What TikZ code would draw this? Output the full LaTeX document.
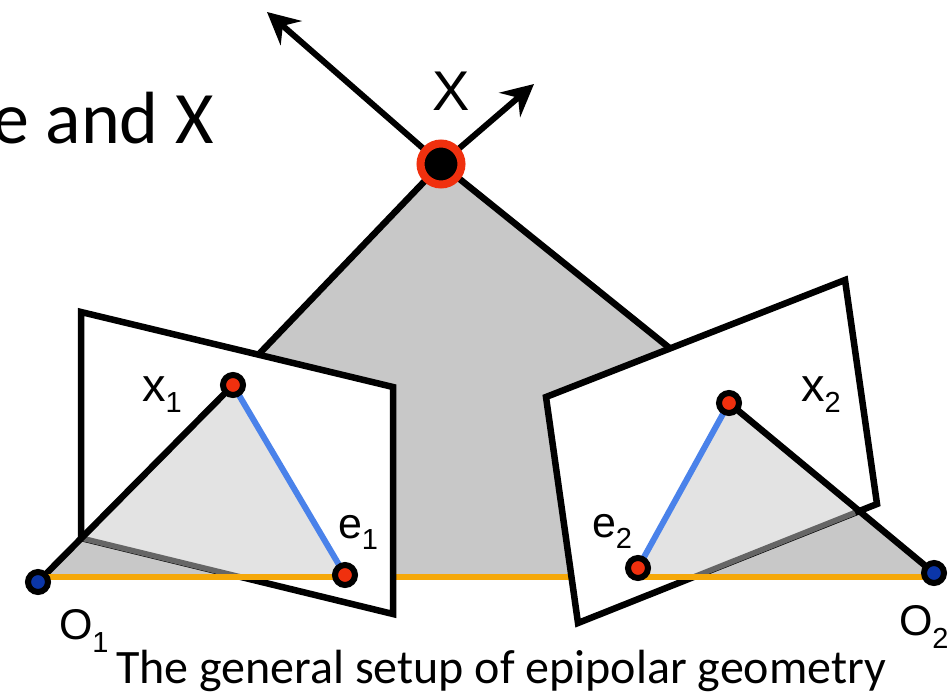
\documentclass[tikz,border=0pt]{standalone}
\usepackage{fontspec}
\setmainfont{Carlito}
\newfontfamily\helv{Liberation Sans}
\usetikzlibrary{arrows.meta}
\definecolor{shadeA}{HTML}{C8C8C8}
\definecolor{shadeB}{HTML}{E3E3E3}
\definecolor{edgeG}{HTML}{666666}
\definecolor{ptred}{HTML}{F0300E}
\definecolor{ptblue}{HTML}{0B36A8}
\definecolor{epiline}{HTML}{4A82EA}
\definecolor{orangeline}{HTML}{F5A80A}
\newcommand{\lab}[4]{{\helv\fontsize{#3}{#3}\selectfont #1\raisebox{-#4pt}{\fontsize{29}{29}\selectfont #2}}}
\tikzset{
  ray/.style={line width=6.5pt,black},
  rayarrow/.style={line width=6pt,black,-{Stealth[length=32pt,width=32pt,inset=11pt]}},
  plane/.style={line width=6.5pt,black,fill=white,line join=miter},
  epi/.style={line width=6pt,epiline},
  baseln/.style={line width=6pt,orangeline},
  backedge/.style={line width=5.5pt,edgeG},
  imgpt/.style={circle,draw=black,line width=6pt,fill=ptred,minimum size=20pt,inner sep=0pt},
  campt/.style={circle,draw=black,line width=6pt,fill=ptblue,minimum size=20pt,inner sep=0pt},
  worldpt/.style={circle,draw=ptred,line width=8pt,fill=black,minimum size=41pt,inner sep=0pt},
  lbl/.style={anchor=base west,inner sep=0pt,outer sep=0pt,text=black}
}
\begin{document}
\begin{tikzpicture}[x=1pt,y=-1pt]
\useasboundingbox (0,0) rectangle (948,696);
\clip (0,0) rectangle (948,696);
\fill[white] (0,0) rectangle (948,696);
% geometry
\coordinate (Xc) at (441,164);
\coordinate (O1c) at (38,582);
\coordinate (O2c) at (934,573);
\coordinate (bl) at (38,577);
\coordinate (br) at (934,577);
\coordinate (x1c) at (233,385);
\coordinate (e1c) at (345,575);
\coordinate (x2c) at (729,403);
\coordinate (e2c) at (638,568);
\coordinate (a1) at (81,312);
\coordinate (a2) at (393,387);
\coordinate (a3) at (393,614);
\coordinate (a4) at (81,538);
\coordinate (b1) at (546,397);
\coordinate (b2) at (845,280);
\coordinate (b3) at (877,504);
\coordinate (b4) at (578,623);
\coordinate (l1) at (241,577);
\coordinate (l2) at (693.5,577);
\coordinate (r1) at (855,512.6);
\coordinate (tipL) at (267,12);
\coordinate (tipR) at (534,84);
\coordinate (upL) at (260,353);
\coordinate (upR) at (672,350);
% shaded epipolar plane
\fill[shadeA] (Xc) -- (upL) -- (O1c) -- (bl) -- (br) -- (O2c) -- (upR) -- cycle;
\draw[ray] (Xc) -- (upL);
\draw[ray] (Xc) -- (upR);
\draw[baseln] (bl) -- (br);
% image planes
\draw[plane] (a1) -- (a2) -- (a3) -- (a4) -- cycle;
\draw[plane] (b1) -- (b2) -- (b3) -- (b4) -- cycle;
% light part seen through the planes
\fill[shadeB] (a4) -- (x1c) -- (e1c) -- (345,577) -- (l1) -- cycle;
\fill[shadeB] (x2c) -- (e2c) -- (638,577) -- (l2) -- (r1) -- cycle;
\draw[backedge] (a4) -- (l1);
\draw[backedge] (l2) -- (r1);
% rays
\draw[ray] (O1c) -- (x1c);
\draw[ray] (O2c) -- (x2c);
\draw[baseln] (bl) -- (345,577);
\draw[baseln] (638,577) -- (br);
\draw[epi] (x1c) -- (e1c);
\draw[epi] (x2c) -- (e2c);
\draw[rayarrow] (Xc) -- (tipL);
\draw[rayarrow] (Xc) -- (tipR);
% points
\node[worldpt] (X) at (Xc) {};
\node[campt] (O1) at (O1c) {};
\node[campt] (O2) at (O2c) {};
\node[imgpt] (x1) at (x1c) {};
\node[imgpt] (e1) at (e1c) {};
\node[imgpt] (x2) at (x2c) {};
\node[imgpt] (e2) at (e2c) {};
% labels
\node[lbl] (lX) at (432,110) {\lab{X}{}{56}{0}};
\node[lbl] (lx1) at (142,401) {\lab{x}{1}{47}{11}};
\node[lbl] (le1) at (338,538) {\lab{e}{1}{43}{11}};
\node[lbl] (lO1) at (59,639) {\lab{O}{1}{43}{13}};
\node[lbl] (lx2) at (801,401) {\lab{x}{2}{47}{11}};
\node[lbl] (le2) at (592,537) {\lab{e}{2}{43}{11}};
\node[lbl] (lO2) at (899,635) {\lab{O}{2}{43}{13}};
\node[lbl,font=\fontsize{74}{74}\selectfont] (head) at (-8,143) {e and X};
\node[lbl,font=\fontsize{48}{48}\selectfont] (cap) at (116,683) {The general setup of epipolar geometry};
\end{tikzpicture}
\end{document}
